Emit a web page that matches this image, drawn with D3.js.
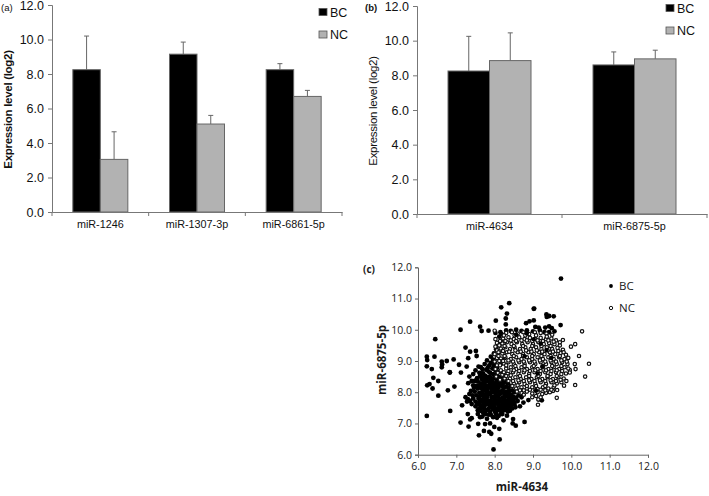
<!DOCTYPE html>
<html>
<head>
<meta charset="utf-8">
<script src="https://cdn.jsdelivr.net/npm/d3@7"></script>
<style>
  body { margin: 0; background: #fff; }
  svg { display: block; }
  .barlabel { font-family: "Liberation Sans", Arial, sans-serif; fill: #111; }
  .scatterlabel { font-family: "Open Sans", "Noto Sans", sans-serif; fill: #1a1a1a; }
</style>
</head>
<body>
<div id="chart"></div>
<script>
// Panel (a)
const catsA = ["miR-1246", "miR-1307-3p", "miR-6861-5p"];
const bcA = [8.25, 9.15, 8.25];
const ncA = [3.05, 5.1, 6.7];
const bcTopA = [10.2, 9.85, 8.6];
const ncTopA = [4.65, 5.6, 7.05];

// Panel (b)
const catsB = ["miR-4634", "miR-6875-5p"];
const bcB = [8.25, 8.6];
const ncB = [8.85, 8.95];
const bcTopB = [10.25, 9.35];
const ncTopB = [10.45, 9.45];

const barTicks = [0, 2, 4, 6, 8, 10, 12];
const scatterTicks = [6, 7, 8, 9, 10, 11, 12];

// Panel (c), scattered outliers read one by one
const bcOutliers = [[6.45,9.7],[7.11,10],[7.36,10.26],[8.17,10.72],[8.38,10.85],[8.32,10.52],[6.23,9.14],[6.24,9.03],[6.43,9.14],[6.62,8.98],[6.75,9],[6.63,8.89],[6.93,9.05],[6.23,8.83],[6.36,8.74],[6.62,8.8],[6.83,8.64],[7.07,8.88],[7.27,8.82],[7.24,9.43],[7.36,9.3],[7.51,9.32],[7.53,9.16],[7.31,9.09],[7.62,10.1],[7.66,9.96],[7.84,9.97],[8.03,10.29],[8.29,10.36],[8.29,10.17],[8.82,10.21],[8.91,10.27],[9.02,10.3],[9.03,10.68],[9.73,11.64],[9.02,10.67],[9.35,10.49],[9.42,10.44],[9.54,10.43],[9.36,10.41],[9.72,10.15],[9.42,10.11],[9.32,10.07],[9.49,10.05],[9.06,10.09],[9.15,10.07],[9.15,7.77],[9.23,7.74],[6.23,7.24],[6.84,7.4],[7.11,7.03],[7.32,6.9],[7.59,6.62],[7.72,6.76],[7.86,6.73],[7.91,6.67],[8.13,6.49],[7.97,6.17],[7.99,6.89],[8.12,6.83],[7.57,6.99],[7.75,6.98],[7.88,7],[8.78,7.05],[8.55,6.93],[8.47,7],[8.48,7.14],[8.23,7.1],[8.4,7.41],[7.3,7.3],[7.36,7.13],[7.4,7.17],[7.56,7.3],[6.24,8.22],[6.3,8.26],[6.38,8.12],[6.4,8.46],[6.53,8.36],[6.53,7.89],[6.78,8.06],[6.95,8.18],[6.83,8.63],[7.15,7.58],[7.12,8.63],[7.31,8.29],[8.88,7.75],[8.75,7.67]];

// BC dense cloud, estimated
const bcCloud = [[7.3,7.78],[7.36,7.72],[7.4,7.62],[7.44,7.8],[7.5,7.55],[7.52,7.9],[7.56,7.42],[7.6,7.68],[7.62,7.2],[7.66,7.5],[7.7,7.34],[7.72,7.82],[7.76,7.6],[7.8,7.15],[7.82,7.44],[7.86,7.72],[7.9,7.28],[7.92,7.55],[7.96,7.86],[8,7.4],[8.02,7.65],[8.06,7.18],[8.1,7.5],[8.12,7.78],[8.16,7.3],[8.2,7.6],[8.24,7.42],[8.28,7.72],[8.32,7.25],[8.36,7.55],[8.42,7.68],[8.46,7.48],[8.52,7.62],[8.6,7.72],[8.66,7.55],
[7.48,8.02],[7.52,8.2],[7.56,8.12],[7.6,7.98],[7.64,8.28],[7.68,8.08],[7.7,8.4],[7.74,7.92],[7.78,8.22],[7.82,8.02],[7.84,8.48],[7.88,8.3],[7.92,8.1],[7.96,8.58],[8,8.24],[8.02,7.96],[8.06,8.42],[8.1,8.14],[8.14,8.66],[8.18,8.34],[8.22,7.98],[8.26,8.52],[8.3,8.18],[8.34,7.86],[8.38,8.04],[8.44,7.92],[8.5,7.84],
[7.34,8.5],[7.4,8.36],[7.44,8.58],[7.5,8.7],[7.54,8.45],[7.6,8.62],[7.64,8.8],[7.7,8.6],[7.74,8.9],[7.78,8.72],[7.8,9.02],[7.86,8.86],[7.9,9.14],[7.94,8.76],[7.98,9.24],[8,8.96],[8.04,9.38],[8.06,8.78],[8.1,9.08],[8.12,9.5],[8.16,8.9],[8.2,9.28],[8.24,9.64],[8.26,9.1],
[7.42,7.9],[7.46,8.14],[7.5,7.7],[7.58,7.8],[7.62,7.58],[7.66,7.92],[7.7,7.66],[7.74,7.46],[7.76,8.14],[7.8,7.84],[7.84,7.62],[7.88,7.94],[7.9,8.2],[7.94,7.7],[7.98,8.02],[8,7.52],[8.04,8.32],[8.08,7.88],[8.08,7.62],[8.12,8.02],[8.14,7.42],[8.18,7.7],[8.2,8.2],[8.24,7.84],[8.26,7.56],[8.3,8.02],[8.34,7.66],[8.38,7.42],[8.4,7.8],[8.44,7.6],[7.58,7.62],[7.66,7.76],[7.72,7.56],[7.78,7.72],[7.82,7.9],[7.86,7.5],[7.92,7.82],[7.96,7.6],[8,7.78],[8.04,7.46],[8.06,7.72],[8.1,7.9],[8.16,7.56],[8.2,7.82],[8.24,7.66],[8.28,7.9],[8.32,7.5],[8.36,7.76],
[7.62,8.52],[7.68,8.74],[7.72,8.3],[7.76,8.52],[7.8,8.36],[7.84,8.66],[7.88,8.48],[7.9,8.94],[7.94,8.34],[7.96,9.04],[8,8.46],[8.02,8.7],[8.06,8.58],[8.08,8.3],[8.12,8.48],[8.14,8.24],[8.2,8.44],[8.24,8.3],[8.28,8.4],[8.34,8.28],[8.36,8.14],[8.42,8.2],[8.46,8.06],[8.52,8],[7.56,8.34],[7.58,8.82],[7.66,8.42],[7.48,8.36],[7.44,8.22],[7.38,8.04],[7.34,7.94],[7.28,7.7],[7.24,7.84],[7.58,7.46],[7.68,7.22],[7.76,7.3],[7.84,7.28],[7.96,7.2],[8.04,7.3],[8.1,7.24],[8.2,7.3],[8.28,7.44],[8.5,7.7],[8.56,7.82],[8.62,7.9],[8.7,7.84],
[8.15,9.92],[8.3,9.98],[8.42,9.96],[8.56,10],[8.7,9.96],[8.84,9.98],[9,9.95],[9.18,9.98],[9.3,9.92],[8.12,9.78],[8.02,9.9],[8.18,9.86],[9.42,9.92],[9.56,9.95],
[7.54,7.62],[7.6,7.86],[7.64,7.4],[7.68,7.98],[7.7,7.74],[7.74,8.06],[7.76,7.4],[7.8,7.98],[7.82,7.66],[7.84,8.14],[7.88,7.38],[7.9,7.66],[7.92,8],[7.94,8.22],[7.96,7.46],[7.98,7.7],[8,8.12],[8.02,7.34],[8.04,7.86],[8.06,8.04],[8.08,7.42],[8.1,7.68],[8.12,8.22],[8.14,7.94],[8.16,7.7],[8.18,7.44],[8.2,8.06],[8.22,7.52],[8.24,8.14],[8.26,7.76],[8.3,7.62],[8.32,7.96],[8.34,7.38],[8.36,8],[8.4,7.56],[8.42,7.88],[8.48,7.76],[8.54,7.52],[7.6,8.22],[7.64,8.14],[7.7,8.2],[7.74,8.44],[7.8,8.12],[7.86,8.22],[7.9,8.38],[7.96,8.44],[8.02,8.16],[8.08,8.22],[7.66,8.6],[7.72,8.48],[7.82,8.78],[7.88,8.62],[7.98,8.84],[8.04,8.5]];

// BC points that sit on top of the NC cloud
const bcOverlay = [[9.12,8.6],[9.35,9.35],[9.2,9.55],[9.08,8.05],[9.02,9.7],[8.56,9.84],[8.84,9.88],[9.48,9.1],[8.78,9.15],[9.24,8.82]];

// NC cloud, estimated
const ncOutliers = [[10.28,9.95],[10.1,9.54],[9.99,9.46],[9.78,9.67],[10.2,9.16],[10.46,8.91],[10.09,8.9],[10.11,8.74],[9.96,8.71],[10.36,8.5],[10.1,8.23],[9.81,8.21],[9.87,8.36],[9.96,8.63],[9.62,7.82],[9.13,7.6],[9.63,8.07],[9.52,8.04],[9.24,7.94],[8.0,9.97],[9.14,7.77]];
const ncCloud = [[8.3,9.9],[8.45,9.92],[8.6,9.88],[8.75,9.92],[8.9,9.86],[9.05,9.92],[9.2,9.9],[9.35,9.88],[9.5,9.84],
[8.22,9.72],[8.36,9.76],[8.5,9.7],[8.64,9.76],[8.78,9.7],[8.92,9.74],[9.06,9.7],[9.2,9.74],[9.34,9.7],[9.48,9.72],[9.6,9.66],
[8.2,9.56],[8.32,9.6],[8.44,9.54],[8.58,9.6],[8.72,9.54],[8.86,9.6],[9,9.54],[9.14,9.6],[9.28,9.54],[9.42,9.58],[9.56,9.54],[9.7,9.5],
[8.16,9.4],[8.28,9.44],[8.4,9.38],[8.52,9.44],[8.66,9.38],[8.8,9.44],[8.94,9.38],[9.08,9.44],[9.22,9.38],[9.36,9.44],[9.5,9.38],[9.64,9.42],[9.78,9.36],
[8.2,9.24],[8.32,9.28],[8.46,9.22],[8.6,9.28],[8.74,9.22],[8.88,9.28],[9.02,9.22],[9.16,9.28],[9.3,9.22],[9.44,9.28],[9.58,9.22],[9.72,9.26],[9.86,9.2],
[8.16,9.08],[8.28,9.12],[8.42,9.06],[8.56,9.12],[8.7,9.06],[8.84,9.12],[8.98,9.06],[9.12,9.12],[9.26,9.06],[9.4,9.12],[9.54,9.06],[9.68,9.12],[9.82,9.06],[9.92,9.1],
[8.24,8.92],[8.36,8.96],[8.5,8.9],[8.64,8.96],[8.78,8.9],[8.92,8.96],[9.06,8.9],[9.2,8.96],[9.34,8.9],[9.48,8.96],[9.62,8.9],[9.76,8.96],[9.9,8.9],
[8.3,8.76],[8.42,8.8],[8.56,8.74],[8.7,8.8],[8.84,8.74],[8.98,8.8],[9.12,8.74],[9.26,8.8],[9.4,8.74],[9.54,8.8],[9.68,8.74],[9.82,8.8],[9.92,8.76],
[8.34,8.6],[8.48,8.64],[8.62,8.58],[8.76,8.64],[8.9,8.58],[9.04,8.64],[9.18,8.58],[9.32,8.64],[9.46,8.58],[9.6,8.64],[9.74,8.58],[9.86,8.6],
[8.4,8.44],[8.54,8.48],[8.68,8.42],[8.82,8.48],[8.96,8.42],[9.1,8.48],[9.24,8.42],[9.38,8.48],[9.52,8.42],[9.66,8.48],[9.8,8.44],
[8.5,8.28],[8.64,8.32],[8.78,8.26],[8.92,8.32],[9.06,8.26],[9.2,8.32],[9.34,8.26],[9.48,8.32],[9.62,8.28],[9.74,8.32],
[8.56,8.12],[8.7,8.16],[8.84,8.1],[8.98,8.16],[9.12,8.1],[9.26,8.16],[9.4,8.12],[9.54,8.16],
[8.7,7.98],[8.84,8.02],[8.98,7.96],[9.12,8.0],[9.34,7.98],[9.44,8.0],
[8.98,7.84],[9.08,7.88],[9.2,7.84],
[8.24,9.82],[8.52,9.82],[8.8,9.82],[9.08,9.82],[9.36,9.78],[8.26,9.48],[8.5,9.48],[8.74,9.48],[8.98,9.48],[9.22,9.48],[9.46,9.48],[9.7,9.6],[8.26,9.16],[8.5,9.16],[8.74,9.16],[8.98,9.16],[9.22,9.16],[9.46,9.16],[9.7,9.16],[8.3,8.86],[8.54,8.84],[8.78,8.84],[9.02,8.84],[9.26,8.84],[9.5,8.84],[9.74,8.84],[8.42,8.54],[8.66,8.52],[8.9,8.52],[9.14,8.52],[9.38,8.52],[9.62,8.52],[8.6,8.22],[8.84,8.2],[9.08,8.2],[9.32,8.2],[9.56,8.22],
[8.02,9.7],[8.06,9.58],[8.02,9.46],[8.06,9.34],[8,9.22],[8.06,9.1],[8,8.98],[8.06,8.86],[8.02,8.74],[8.08,8.62],[8.04,8.5],[8.14,8.4],[8.14,9.64],[8.12,9.5],[8.1,9.28],[8.1,9.16],[8.12,9],[8.14,8.86],[8.16,8.7],[8.2,8.56],[8.26,8.44],[8.24,8.64],[8.3,8.52],[8.36,8.36],[8.46,8.2],[8.58,8.02],[8.66,8.06],[8.76,7.92],
[8.28,9.64],[8.42,9.66],[8.56,9.64],[8.7,9.66],[8.84,9.66],[8.98,9.64],[9.12,9.66],[9.26,9.64],[9.4,9.66],[9.54,9.62],[8.22,9.32],[8.38,9.3],[8.54,9.34],[8.68,9.3],[8.82,9.34],[8.96,9.3],[9.1,9.34],[9.24,9.3],[9.38,9.34],[9.52,9.3],[9.66,9.32],[9.8,9.28],[8.22,9],[8.36,9.02],[8.48,8.98],[8.62,9.02],[8.76,8.98],[8.9,9.02],[9.04,8.98],[9.18,9.02],[9.32,8.98],[9.46,9.02],[9.6,8.98],[9.74,9.02],[9.88,8.98],[8.36,8.68],[8.5,8.7],[8.64,8.68],[8.78,8.7],[8.92,8.68],[9.06,8.7],[9.2,8.68],[9.34,8.7],[9.48,8.68],[9.62,8.7],[9.76,8.68],[8.48,8.36],[8.62,8.38],[8.76,8.36],[8.9,8.38],[9.04,8.36],[9.18,8.38],[9.32,8.36],[9.46,8.38],[9.6,8.36],[9.72,8.4],[8.76,8.06],[8.92,8.08],[9.06,8.06],[9.2,8.08],[9.32,8.06],[9.48,8.08]];

const width = 709, height = 496;
const svg = d3.select("#chart").append("svg").attr("width", width).attr("height", height);

function barPanel(cats, bc, nc, bcTop, ncTop, box, groupWidth, tag, legendX, legendY) {
  const y = d3.scaleLinear().domain([0, 12]).range([box.bottom, box.top]);
  const x0 = d3.scaleBand().domain(cats).range([box.left, box.right]);
  const x1 = d3.scaleBand().domain(["BC", "NC"]).range([0, groupWidth]);
  const g = svg.append("g");
  const offset = (x0.bandwidth() - groupWidth) / 2;

  const series = [
    { name: "BC", vals: bc, tops: bcTop, fill: "#000" },
    { name: "NC", vals: nc, tops: ncTop, fill: "#b2b2b2" }
  ];

  series.forEach(s => {
    cats.forEach((c, i) => {
      const left = x0(c) + offset + x1(s.name);
      const mid = left + x1.bandwidth() / 2;
      // error bar first, bar covers the lower part
      g.append("line").attr("x1", mid).attr("x2", mid)
        .attr("y1", y(s.vals[i])).attr("y2", y(s.tops[i]))
        .attr("stroke", "#666").attr("stroke-width", 1);
      g.append("line").attr("x1", mid - 2.5).attr("x2", mid + 2.5)
        .attr("y1", y(s.tops[i])).attr("y2", y(s.tops[i]))
        .attr("stroke", "#666").attr("stroke-width", 1);
      g.append("rect").attr("x", left).attr("y", y(s.vals[i]))
        .attr("width", x1.bandwidth()).attr("height", box.bottom - y(s.vals[i]))
        .attr("fill", s.fill).attr("stroke", "#666").attr("stroke-width", 1);
    });
  });

  // axes
  const yAxis = g.append("g").attr("transform", `translate(${box.left},0)`)
    .call(d3.axisLeft(y).tickValues(barTicks).tickFormat(d3.format(".1f")).tickSize(4));
  const xAxis = g.append("g").attr("transform", `translate(0,${box.bottom})`)
    .call(d3.axisBottom(x0).tickSize(0).tickPadding(8));
  xAxis.selectAll("text").attr("class", "barlabel").style("font-size", "10.8px");
  yAxis.selectAll("text").attr("class", "barlabel").style("font-size", "12.5px").attr("dx", "-1");
  g.selectAll(".domain, .tick line").attr("stroke", "#777");

  // group separators on the x axis
  const seps = cats.map(c => x0(c)).concat([box.right]);
  seps.forEach(s => {
    g.append("line").attr("x1", s).attr("x2", s).attr("y1", box.bottom).attr("y2", box.bottom + 4)
      .attr("stroke", "#777");
  });

  g.append("text").attr("class", "barlabel")
    .attr("transform", `translate(${box.left - 40},${(box.top + box.bottom) / 2 + 1}) rotate(-90)`)
    .attr("text-anchor", "middle").style("font-size", "11.5px").style("font-weight", tag === "(a)" ? "bold" : "normal")
    .style("letter-spacing", "-0.3px")
    .text("Expression level (log2)");

  g.append("text").attr("class", "barlabel").attr("x", tag === "(a)" ? 1 : 365).attr("y", 11)
    .style("font-size", "9.5px").style("font-weight", tag === "(a)" ? "normal" : "bold").text(tag);

  // legend
  series.forEach((s, i) => {
    g.append("rect").attr("x", legendX).attr("y", legendY + i * 22.5 - 3.5).attr("width", 8).attr("height", 7)
      .attr("fill", s.fill).attr("stroke", "#555").attr("stroke-width", 0.8);
    g.append("text").attr("class", "barlabel").attr("x", legendX + 11).attr("y", legendY + i * 22.5 + 4.5)
      .style("font-size", "12.5px").text(s.name);
  });
}

barPanel(catsA, bcA, ncA, bcTopA, ncTopA, { left: 52, right: 342, top: 5, bottom: 212 }, 55, "(a)", 319, 12);
barPanel(catsB, bcB, ncB, bcTopB, ncTopB, { left: 417, right: 707, top: 6, bottom: 214 }, 83, "(b)", 666, 8);

// Panel (c)
const sx = d3.scaleLinear().domain([6, 12]).range([418, 648]);
const sy = d3.scaleLinear().domain([6, 12]).range([454.7, 267.3]);
const sc = svg.append("g");

sc.append("g").selectAll("circle").data(bcOutliers.concat(bcCloud)).join("circle")
  .attr("cx", d => sx(d[0])).attr("cy", d => sy(d[1])).attr("r", 2.4).attr("fill", "#000");

sc.append("g").selectAll("circle").data(ncOutliers.concat(ncCloud)).join("circle")
  .attr("cx", d => sx(d[0])).attr("cy", d => sy(d[1])).attr("r", 1.7)
  .attr("fill", "#fff").attr("stroke", "#111").attr("stroke-width", 1.2);

sc.append("g").selectAll("circle").data(bcOverlay).join("circle")
  .attr("cx", d => sx(d[0])).attr("cy", d => sy(d[1])).attr("r", 2.2).attr("fill", "#000");

const sxAxis = sc.append("g").attr("transform", "translate(0,454.7)")
  .call(d3.axisBottom(sx).tickValues(scatterTicks).tickFormat(d3.format(".1f")).tickSize(3).tickPadding(5));
const syAxis = sc.append("g").attr("transform", "translate(418,0)")
  .call(d3.axisLeft(sy).tickValues(scatterTicks).tickFormat(d3.format(".1f")).tickSize(3).tickPadding(3));
[sxAxis, syAxis].forEach(a => {
  a.selectAll("text").attr("class", "scatterlabel").style("font-size", "10.5px");
  a.selectAll(".domain, .tick line").attr("stroke", "#666");
});

sc.append("text").attr("class", "scatterlabel").attr("x", 522).attr("y", 491)
  .attr("text-anchor", "middle").style("font-size", "11.5px").style("font-weight", "bold").text("miR-4634");
sc.append("text").attr("class", "scatterlabel")
  .attr("transform", "translate(386,360) rotate(-90)")
  .attr("text-anchor", "middle").style("font-size", "11.5px").style("font-weight", "bold").text("miR-6875-5p");
sc.append("text").attr("class", "scatterlabel").attr("x", 363).attr("y", 273)
  .style("font-size", "10px").style("font-weight", "bold").text("(c)");

// legend, BC then NC
sc.append("circle").attr("cx", 611).attr("cy", 286).attr("r", 1.9).attr("fill", "#000");
sc.append("circle").attr("cx", 611).attr("cy", 308).attr("r", 1.7).attr("fill", "#fff").attr("stroke", "#111");
sc.append("text").attr("class", "scatterlabel").attr("x", 619).attr("y", 290).style("font-size", "11.5px").text("BC");
sc.append("text").attr("class", "scatterlabel").attr("x", 619).attr("y", 312).style("font-size", "11.5px").text("NC");
</script>
</body>
</html>
